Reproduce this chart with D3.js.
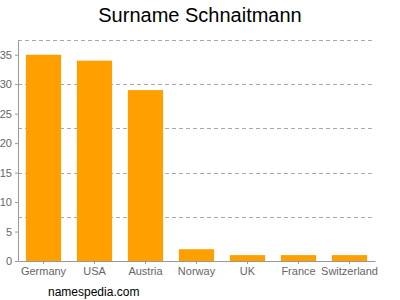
<!DOCTYPE html>
<html>
<head>
<meta charset="utf-8">
<script src="https://cdn.jsdelivr.net/npm/d3@7"></script>
<style>
  body { margin: 0; background: #fff; }
  svg { display: block; font-family: 'Liberation Sans', Arial, sans-serif; }
</style>
</head>
<body>
<div id="container"></div>
<script>
// Surname Schnaitmann - bar chart

//_____ DATA _____
const countries = [ 'Germany', 'USA', 'Austria', 'Norway', 'UK', 'France', 'Switzerland' ];
const counts = [ 35, 34, 29, 2, 1, 1, 1 ];
const yTicks = [ 0, 5, 10, 15, 20, 25, 30, 35 ];
const gridValues = [ 7.5, 15, 22.5, 30, 37.5 ];

//_____ VARIABLES _____
const width = 400;
const height = 300;
const margin = { top: 40, right: 25, bottom: 39, left: 18 };
const innerW = width - margin.left - margin.right;
const innerH = height - margin.top - margin.bottom;

const svg = d3.select( '#container' )
  .append( 'svg' )
  .attr( 'width', width )
  .attr( 'height', height );

const g = svg.append( 'g' )
  .attr( 'transform', `translate(${margin.left},${margin.top})` );

//_____ SCALES _____
const xScale = d3.scaleBand()
  .domain( countries )
  .range( [ 0, innerW ] )
  .paddingInner( 0.31 )
  .paddingOuter( 0.155 );

const yScale = d3.scaleLinear()
  .domain( [ 0, 37.5 ] )
  .range( [ innerH, 0 ] );

//_____ GRID _____
g.selectAll( '.grid' )
  .data( gridValues )
  .enter()
  .append( 'line' )
  .attr( 'class', 'grid' )
  .attr( 'x1', 0 )
  .attr( 'x2', innerW )
  .attr( 'y1', d => Math.round( yScale( d ) ) + 0.5 )
  .attr( 'y2', d => Math.round( yScale( d ) ) + 0.5 )
  .attr( 'stroke', '#aaa' )
  .attr( 'stroke-dasharray', '4,3' );

//_____ BARS _____
g.selectAll( '.bar' )
  .data( counts )
  .enter()
  .append( 'rect' )
  .attr( 'class', 'bar' )
  .attr( 'x', ( d, i ) => xScale( countries[ i ] ) )
  .attr( 'y', d => yScale( d ) )
  .attr( 'width', xScale.bandwidth() )
  .attr( 'height', d => innerH - yScale( d ) )
  .attr( 'fill', '#ffa000' );

//_____ AXES _____
const xAxis = d3.axisBottom( xScale ).tickSize( 3 ).tickSizeOuter( 0 );
const yAxis = d3.axisLeft( yScale ).tickValues( yTicks ).tickSize( 3 ).tickSizeOuter( 0 );

const gx = g.append( 'g' )
  .attr( 'transform', `translate(0,${innerH})` )
  .call( xAxis );

const gy = g.append( 'g' )
  .call( yAxis );

[ gx, gy ].forEach( ax => {
  ax.select( '.domain' ).attr( 'stroke', '#999' );
  ax.selectAll( '.tick line' ).attr( 'stroke', '#999' );
  ax.selectAll( '.tick text' )
    .attr( 'fill', '#666' )
    .style( 'font-size', '11px' )
    .style( 'font-family', "'Liberation Sans', Arial, sans-serif" );
} );

gx.selectAll( '.tick text' ).attr( 'dy', '0.7em' );

//_____ TITLE _____
svg.append( 'text' )
  .attr( 'x', width / 2 )
  .attr( 'y', 22 )
  .attr( 'text-anchor', 'middle' )
  .style( 'font-size', '20px' )
  .style( 'fill', '#000' )
  .text( 'Surname Schnaitmann' );

//_____ FOOTER _____
svg.append( 'text' )
  .attr( 'x', 48 )
  .attr( 'y', 296 )
  .style( 'font-size', '12px' )
  .style( 'fill', '#000' )
  .text( 'namespedia.com' );
</script>
</body>
</html>
